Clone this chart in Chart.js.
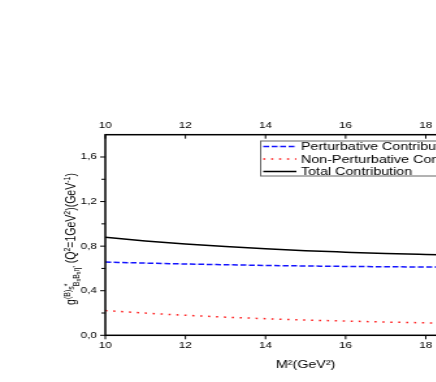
<!DOCTYPE html>
<html>
<head>
<meta charset="utf-8">
<script src="https://cdn.jsdelivr.net/npm/chart.js@4.4.0/dist/chart.umd.min.js"></script>
<style>
  html, body { margin: 0; padding: 0; background: #fff; overflow: hidden; }
  /* the source picture is stretched sideways, so the whole chart is too */
  #wrap { width: 420px; height: 382px; transform: scaleX(1.3); transform-origin: 0 0; }
</style>
</head>
<body>
<div id="wrap"><canvas id="chart1" width="420" height="382"></canvas></div>
<script>
// M^2 (GeV^2)
var m2 = [10, 11, 12, 13, 14, 15, 16, 17, 18, 19, 20];
var perturbative = [0.657, 0.648, 0.640, 0.633, 0.627, 0.622, 0.618, 0.615, 0.613, 0.611, 0.609];
var nonPerturbative = [0.222, 0.199, 0.180, 0.163, 0.149, 0.137, 0.128, 0.119, 0.112, 0.106, 0.100];
var total = [0.879, 0.847, 0.820, 0.796, 0.776, 0.759, 0.746, 0.734, 0.725, 0.717, 0.709];

var seriesLabels = ['Perturbative Contribution', 'Non-Perturbative Contribution', 'Total Contribution'];
var xTickValues = [10, 12, 14, 16, 18, 20];
var yTickValues = [0, 0.4, 0.8, 1.2, 1.6];
var yMinorValues = [0.2, 0.6, 1.0, 1.4];

var FONT = '"Liberation Sans", Arial, sans-serif';

function points(ys) {
  return m2.map((x, i) => ({ x: x, y: ys[i] }));
}

// frame + tick marks (major out on bottom/left, in on top)
var frame = {
  id: 'frame',
  afterDatasetsDraw(chart) {
    var ctx = chart.ctx, a = chart.chartArea;
    var x = chart.scales.x, y = chart.scales.y;
    ctx.save();
    ctx.strokeStyle = '#000';
    ctx.lineWidth = 1.5;
    ctx.strokeRect(a.left, a.top, a.right - a.left, a.bottom - a.top);
    ctx.lineWidth = 1;
    ctx.beginPath();
    xTickValues.forEach(v => {
      var px = x.getPixelForValue(v);
      ctx.moveTo(px, a.bottom); ctx.lineTo(px, a.bottom + 4);
      ctx.moveTo(px, a.top); ctx.lineTo(px, a.top + 4);
    });
    yTickValues.forEach(v => {
      var py = y.getPixelForValue(v);
      ctx.moveTo(a.left, py); ctx.lineTo(a.left - 4, py);
    });
    yMinorValues.forEach(v => {
      var py = y.getPixelForValue(v);
      ctx.moveTo(a.left, py); ctx.lineTo(a.left - 3, py);
    });
    ctx.stroke();
    ctx.restore();
  }
};

// boxed legend inside the plot, top right
var boxLegend = {
  id: 'boxLegend',
  afterDraw(chart) {
    var ctx = chart.ctx, a = chart.chartArea;
    var left = a.left + 119.5, top = 141, rowH = 12.5;
    ctx.save();
    ctx.font = '11px ' + FONT;
    var w = 0;
    chart.data.datasets.forEach(d => { w = Math.max(w, ctx.measureText(d.label).width); });
    var boxW = 31 + w + 4, boxH = 35;
    ctx.fillStyle = '#fff';
    ctx.fillRect(left, top, boxW, boxH);
    ctx.strokeStyle = '#666';
    ctx.lineWidth = 1;
    ctx.strokeRect(left, top, boxW, boxH);
    chart.data.datasets.forEach((d, i) => {
      var cy = top + 5.5 + i * rowH;
      ctx.strokeStyle = d.borderColor;
      ctx.lineWidth = d.borderWidth;
      ctx.setLineDash(d.borderDash || []);
      ctx.beginPath();
      ctx.moveTo(left + 2, cy);
      ctx.lineTo(left + 27.5, cy);
      ctx.stroke();
      ctx.setLineDash([]);
      ctx.fillStyle = '#000';
      ctx.textBaseline = 'middle';
      ctx.fillText(d.label, left + 31, cy + 0.5);
    });
    ctx.restore();
  }
};

// y axis title with sub/superscripts
var yTitleParts = [
  ['g', 'main'], ['(B)', 'sup'], ['s', 'mid'], ['*', 'sup', true],
  ['B', 'sub'], ['s', 'subsub'], ['B', 'sub'], ['s', 'subsub'], ["\u03b7'", 'sub'],
  [' (Q', 'main'], ['2', 'sup'], ['=1GeV', 'main'], ['2', 'sup'],
  [')(GeV', 'main'], ['-1', 'sup'], [')', 'main']
];
var partStyle = {
  main: [10.5, 0], sup: [7, -4.5], mid: [7, -1], sub: [7, 2.5], subsub: [5.5, 4]
};
var yTitle = {
  id: 'yTitle',
  afterDraw(chart) {
    var ctx = chart.ctx, a = chart.chartArea;
    ctx.save();
    ctx.fillStyle = '#000';
    ctx.textBaseline = 'alphabetic';
    var total = 0;
    yTitleParts.forEach(p => {
      ctx.font = partStyle[p[1]][0] + 'px ' + FONT;
      if (!p[2]) total += ctx.measureText(p[0]).width;
    });
    ctx.translate(a.left - 23, (a.top + a.bottom) / 2 + 4);
    ctx.rotate(-Math.PI / 2);
    var pos = -total / 2;
    yTitleParts.forEach(p => {
      var st = partStyle[p[1]];
      ctx.font = st[0] + 'px ' + FONT;
      ctx.fillText(p[0], pos, st[1]);
      if (!p[2]) pos += ctx.measureText(p[0]).width;
    });
    ctx.restore();
  }
};

var config = {
  type: 'line',
  data: {
    datasets: [
      { label: seriesLabels[0], data: points(perturbative), borderColor: 'rgb(20,20,255)', borderWidth: 1.5, borderDash: [4.5, 2] },
      { label: seriesLabels[1], data: points(nonPerturbative), borderColor: 'rgb(255,30,30)', borderWidth: 1.5, borderDash: [1.6, 4.5] },
      { label: seriesLabels[2], data: points(total), borderColor: '#000', borderWidth: 1.5 }
    ]
  },
  options: {
    responsive: false,
    animation: false,
    layout: { padding: { left: 0, top: 0, right: 30.9, bottom: 0 } },
    elements: { point: { radius: 0 }, line: { cubicInterpolationMode: 'monotone', fill: false } },
    plugins: { legend: { display: false }, tooltip: { enabled: false } },
    scales: {
      x: {
        type: 'linear', position: 'bottom', min: 10, max: 20,
        grid: { display: false, drawTicks: false }, border: { display: false },
        afterBuildTicks: s => { s.ticks = xTickValues.map(v => ({ value: v })); },
        afterFit: s => { s.height = 46.7; },
        ticks: { color: '#000', font: { size: 9, family: FONT }, padding: 5, maxRotation: 0, autoSkip: false },
        title: { display: true, text: 'M\u00b2(GeV\u00b2)', color: '#000', font: { size: 11, family: FONT }, padding: { top: 0, bottom: 10.4 } }
      },
      x2: {
        type: 'linear', axis: 'x', position: 'top', min: 10, max: 20,
        grid: { display: false, drawTicks: false }, border: { display: false },
        afterBuildTicks: s => { s.ticks = xTickValues.map(v => ({ value: v })); },
        afterFit: s => { s.height = 134.7; },
        ticks: { color: '#000', font: { size: 9, family: FONT }, padding: 3.3, maxRotation: 0, autoSkip: false }
      },
      y: {
        type: 'linear', min: 0, max: 1.8,
        grid: { display: false, drawTicks: false }, border: { display: false },
        afterBuildTicks: s => { s.ticks = yTickValues.map(v => ({ value: v })); },
        afterFit: s => { s.width = 81; },
        ticks: { color: '#000', font: { size: 9, family: FONT }, padding: 6.4,
          callback: v => v.toFixed(1).replace('.', ',') }
      }
    }
  },
  plugins: [frame, boxLegend, yTitle]
};

var ctx = document.getElementById('chart1').getContext('2d');
window.chart1 = new Chart(ctx, config);
</script>
</body>
</html>
